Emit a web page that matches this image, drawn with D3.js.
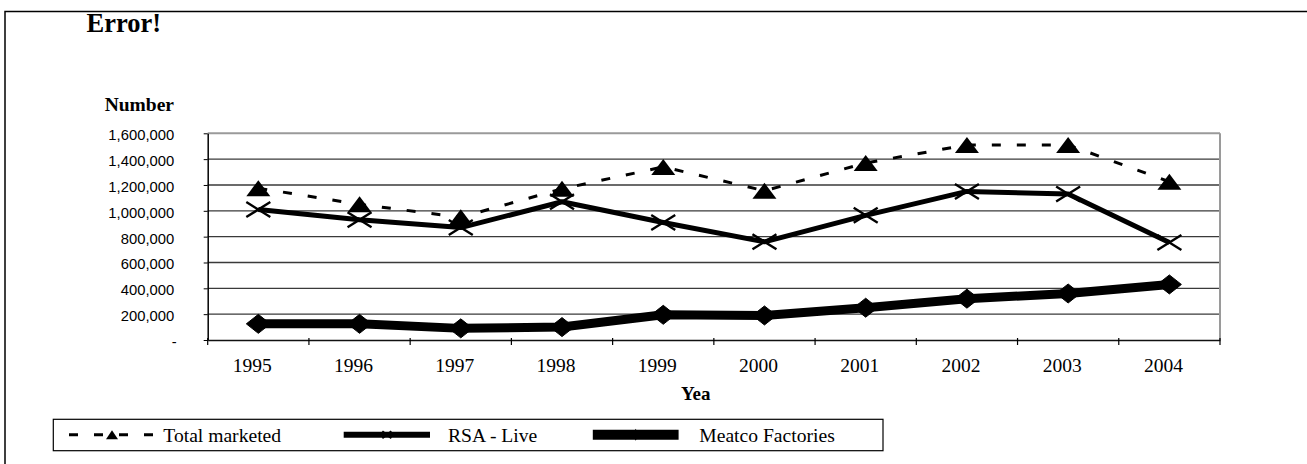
<!DOCTYPE html>
<html>
<head>
<meta charset="utf-8">
<script src="https://cdn.jsdelivr.net/npm/d3@7/dist/d3.min.js"></script>
<style>
  html, body { margin: 0; padding: 0; background: #fff; }
  svg { display: block; }
</style>
</head>
<body>
<svg id="chart" width="1307" height="464"></svg>
<script>
// Livestock marketed per year
const years = ["1995", "1996", "1997", "1998", "1999", "2000", "2001", "2002", "2003", "2004"];
const totalMarketed = [1175000, 1050000, 950000, 1170000, 1340000, 1155000, 1370000, 1510000, 1510000, 1225000];
const rsaLive = [1010000, 930000, 870000, 1070000, 910000, 760000, 965000, 1150000, 1130000, 755000];
const meatcoFactories = [125000, 125000, 90000, 100000, 195000, 190000, 250000, 320000, 360000, 430000];
const yTicks = [0, 200000, 400000, 600000, 800000, 1000000, 1200000, 1400000, 1600000];
const seriesNames = ["Total marketed", "RSA - Live", "Meatco Factories"];

const svg = d3.select("#chart");
const serif = "'Liberation Serif', 'Times New Roman', serif";
const sans = "'Liberation Sans', Arial, sans-serif";

// outer frame (top and left edges visible)
svg.append("path")
  .attr("d", "M5,464 L5,11.5 L1307,11.5")
  .attr("fill", "none").attr("stroke", "#000").attr("stroke-width", 1.5);

svg.append("text").text("Error!")
  .attr("x", 86.5).attr("y", 31.5)
  .attr("font-family", serif).attr("font-weight", "bold").attr("font-size", 26.5);

const plot = { left: 207.7, right: 1220, top: 133.3, bottom: 340 };

const x = d3.scaleBand().domain(years).range([plot.left, plot.right]).padding(0);
const y = d3.scaleLinear().domain([0, 1600000]).range([plot.bottom, plot.top]);

// horizontal gridlines
svg.append("g").selectAll("line").data(yTicks.filter(v => v > 0)).join("line")
  .attr("x1", plot.left).attr("x2", plot.right)
  .attr("y1", d => y(d)).attr("y2", d => y(d))
  .attr("stroke", d => d === 1600000 ? "#9a9a9a" : "#3a3a3a")
  .attr("stroke-width", d => d === 1600000 ? 2 : 1.3);

// right edge of plot area
svg.append("line")
  .attr("x1", plot.right).attr("x2", plot.right)
  .attr("y1", plot.top).attr("y2", plot.bottom)
  .attr("stroke", "#9a9a9a").attr("stroke-width", 2);

// y axis
const yAxis = svg.append("g")
  .attr("transform", `translate(${plot.left},0)`)
  .call(d3.axisLeft(y).tickValues(yTicks).tickSizeInner(4).tickSizeOuter(0).tickPadding(30)
    .tickFormat(d => d === 0 ? "-" : d3.format(",")(d)));
yAxis.select(".domain").attr("stroke", "#000").attr("stroke-width", 1.5);
yAxis.selectAll(".tick line").attr("stroke", "#000");
yAxis.selectAll(".tick text")
  .attr("font-family", sans).attr("font-size", 14.8).attr("fill", "#000")
  .attr("dy", "6.5px").attr("x", d => d === 0 ? -31 : -33.5);

// x axis: labels at band centres, ticks at band edges
const xAxis = svg.append("g")
  .attr("transform", `translate(0,${plot.bottom})`)
  .call(d3.axisBottom(x).tickSize(0).tickPadding(0));
xAxis.select(".domain").attr("stroke", "#111").attr("stroke-width", 1.6);
xAxis.selectAll(".tick text")
  .attr("font-family", serif).attr("font-size", 19.5).attr("fill", "#000")
  .attr("dy", null).attr("y", 32.3).attr("x", -6);
xAxis.selectAll(".edge").data(years.concat(["end"])).join("line")
  .attr("class", "edge")
  .attr("x1", d => d === "end" ? plot.right : x(d))
  .attr("x2", d => d === "end" ? plot.right : x(d))
  .attr("y1", -2).attr("y2", 5)
  .attr("stroke", "#000").attr("stroke-width", 1.2);

// axis titles
svg.append("text").text("Number")
  .attr("x", 174).attr("y", 110.7).attr("text-anchor", "end")
  .attr("font-family", serif).attr("font-weight", "bold").attr("font-size", 19.5);
svg.append("text").text("Yea")
  .attr("x", 681).attr("y", 400)
  .attr("font-family", serif).attr("font-weight", "bold").attr("font-size", 19);

// marker shapes
const markerPaths = {
  triangle: (w, h) => `M0,${-h / 2} L${w / 2},${h / 2} L${-w / 2},${h / 2} Z`,
  cross: (w, h) => `M${-w / 2},${-h / 2} L${w / 2},${h / 2} M${-w / 2},${h / 2} L${w / 2},${-h / 2}`,
  diamond: (w, h) => `M0,${-h / 2} L${w / 2},0 L0,${h / 2} L${-w / 2},0 Z`
};

const series = [
  { name: seriesNames[0], values: totalMarketed, width: 3, dash: "9,16", marker: "triangle", mw: 24, mh: 16, fill: true, mstroke: 0 },
  { name: seriesNames[1], values: rsaLive, width: 5, dash: null, marker: "cross", mw: 24, mh: 15, fill: false, mstroke: 2.4 },
  { name: seriesNames[2], values: meatcoFactories, width: 9, dash: null, marker: "diamond", mw: 24, mh: 19, fill: true, mstroke: 1 }
];

const line = d3.line()
  .x((d, i) => x(years[i]) + x.bandwidth() / 2)
  .y(d => y(d));

series.forEach(s => {
  const g = svg.append("g");
  g.append("path")
    .attr("d", line(s.values))
    .attr("fill", "none").attr("stroke", "#000")
    .attr("stroke-width", s.width)
    .attr("stroke-dasharray", s.dash)
    .attr("stroke-linejoin", "round");
  g.selectAll("path.mk").data(s.values).join("path")
    .attr("class", "mk")
    .attr("transform", (d, i) => `translate(${x(years[i]) + x.bandwidth() / 2},${y(d)})`)
    .attr("d", markerPaths[s.marker](s.mw, s.mh))
    .attr("fill", s.fill ? "#000" : "none")
    .attr("stroke", "#000").attr("stroke-width", s.mstroke);
});

// legend
const legend = svg.append("g");
legend.append("rect")
  .attr("x", 53.3).attr("y", 419.3).attr("width", 829.7).attr("height", 31.4)
  .attr("fill", "#fff").attr("stroke", "#000").attr("stroke-width", 1.2);

const legendItems = [
  { s: series[0], x0: 69, x1: 155, tx: 163.3, mw: 12, mh: 9 },
  { s: series[1], x0: 343.7, x1: 430, tx: 448, mw: 9, mh: 7 },
  { s: series[2], x0: 592.8, x1: 678.6, tx: 699.3, mw: 6, mh: 12 }
];
const ly = 434.7;
legendItems.forEach(it => {
  legend.append("line")
    .attr("x1", it.x0).attr("x2", it.x1).attr("y1", ly).attr("y2", ly)
    .attr("stroke", "#000").attr("stroke-width", it.s.width === 3 ? 3 : it.s.width + 1)
    .attr("stroke-dasharray", it.s.dash);
  legend.append("path")
    .attr("transform", `translate(${(it.x0 + it.x1) / 2},${ly})`)
    .attr("d", markerPaths[it.s.marker](it.mw, it.mh))
    .attr("fill", it.s.fill ? "#000" : "none")
    .attr("stroke", "#000").attr("stroke-width", it.s.marker === "cross" ? 2 : 0);
  legend.append("text").text(it.s.name)
    .attr("x", it.tx).attr("y", 442.3)
    .attr("font-family", serif).attr("font-size", 19.6);
});
</script>
</body>
</html>
